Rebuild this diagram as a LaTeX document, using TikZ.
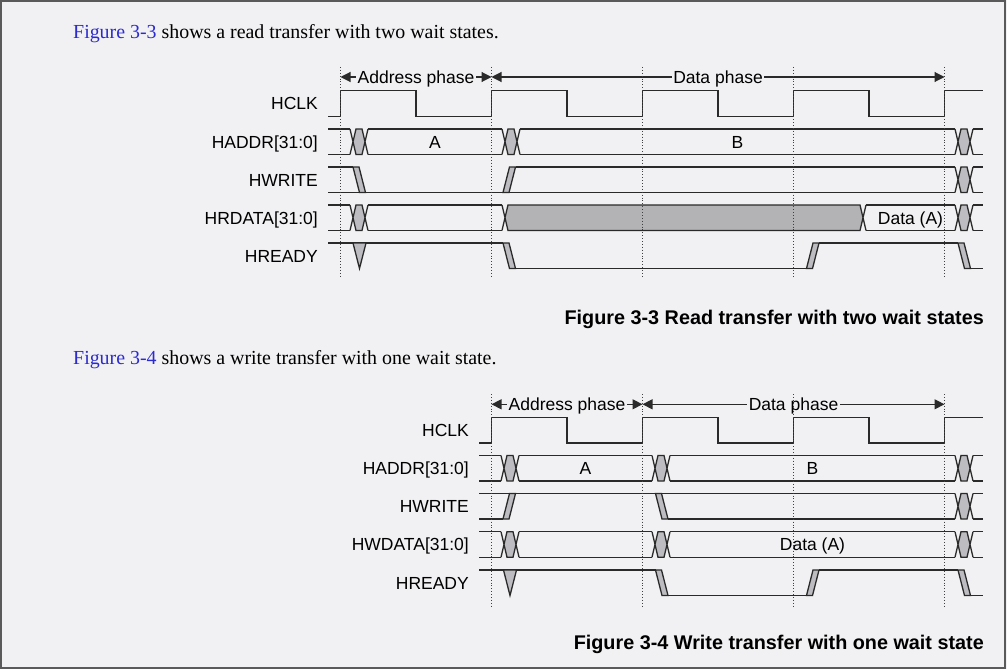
\documentclass[tikz,border=0pt]{standalone}
\usepackage{fontspec}
\setmainfont{Liberation Sans}
\newfontfamily\parfont{Liberation Serif}
\usetikzlibrary{arrows.meta}
\definecolor{bgc}{HTML}{F1F0F2}
\definecolor{xgray}{HTML}{BDBDC1}
\definecolor{dgray}{HTML}{B3B2B5}
\definecolor{wavec}{HTML}{2A2A2A}
\definecolor{linkblue}{HTML}{2B2BD0}
\definecolor{framec}{HTML}{5A5A5A}
\newcommand{\bothl}[2]{\draw[wave] (#1,0) -- (#2,0) (#1,25.5) -- (#2,25.5);}
\newcommand{\hil}[2]{\draw[wave] (#1,0) -- (#2,0);}
\newcommand{\lol}[2]{\draw[wave] (#1,25.5) -- (#2,25.5);}
\newcommand{\xbus}[1]{%
  \fill[xgray] ({#1+3},12.75) -- ({#1+6},0) -- ({#1+12},0) -- ({#1+15},12.75) -- ({#1+12},25.5) -- ({#1+6},25.5) -- cycle;
  \draw[wave] (#1,0) -- ({#1+6},25.5) -- ({#1+12},25.5) -- ({#1+18},0) (#1,25.5) -- ({#1+6},0) -- ({#1+12},0) -- ({#1+18},25.5);}
\newcommand{\darkbus}[2]{%
  \fill[dgray] ({#1+3},12.75) -- ({#1+6},0) -- (#2,0) -- ({#2+3},12.75) -- (#2,25.5) -- ({#1+6},25.5) -- cycle;
  \draw[wave] (#1,0) -- ({#1+6},25.5) -- (#2,25.5) -- ({#2+6},0) (#1,25.5) -- ({#1+6},0) -- (#2,0) -- ({#2+6},25.5);}
\newcommand{\fallw}[1]{\filldraw[wave,fill=xgray] (#1,0) -- ({#1+6},0) -- ({#1+12.5},25.5) -- ({#1+6.5},25.5) -- cycle;}
\newcommand{\risew}[1]{\filldraw[wave,fill=xgray] (#1,25.5) -- ({#1+6},25.5) -- ({#1+12.5},0) -- ({#1+6.5},0) -- cycle;}
\newcommand{\glitchv}[1]{\filldraw[wave,fill=xgray] (#1,0) -- ({#1+13},0) -- ({#1+6.5},25.5) -- cycle;}
\begin{document}
\begin{tikzpicture}[x=1pt,y=-1pt,
  wave/.style={draw=wavec,line width=1.3pt,line join=miter},
  sig/.style={anchor=base east,inner sep=0pt,font=\fontsize{17.5}{21}\selectfont},
  val/.style={anchor=base,inner sep=0pt,font=\fontsize{17.5}{21}\selectfont},
  phase/.style={draw=wavec,line width=1.1pt,{Triangle[length=10pt,width=10pt]}-{Triangle[length=10pt,width=10pt]}},
  phaselbl/.style={fill=bgc,anchor=base,yshift=-6.3pt,inner sep=1.5pt,font=\fontsize{17.5}{21}\selectfont},
  guide/.style={draw=black!75,line width=0.9pt,dotted},
  caption/.style={anchor=base east,inner sep=0pt,font=\bfseries\fontsize{19.8}{24}\selectfont},
  para/.style={anchor=base west,inner sep=0pt,font=\parfont\fontsize{19.9}{24}\selectfont}]
\useasboundingbox (0,0) rectangle (1007,669);
\fill[bgc] (0,0) rectangle (1007,669);
\draw[framec,line width=2pt] (1,1) rectangle (1005,667.5);

\node[para] (textA) at (73,38.4) {\textcolor{linkblue}{Figure 3-3} shows a read transfer with two wait states.};
\node[para] (textB) at (73,364.6) {\textcolor{linkblue}{Figure 3-4} shows a write transfer with one wait state.};

\coordinate (a0) at (340.5,77);
\coordinate (a1) at (491.5,77);
\coordinate (a2) at (944.5,77);
\draw[phase] (a0) -- (a1) node[midway,phaselbl] (adrA) {Address phase};
\draw[phase] (a1) -- (a2) node[midway,phaselbl] (datA) {Data phase};

\begin{scope}[shift={(0,90.7)}]
\node[sig] (clkL1) at (318,19) {HCLK};
\draw[wave] (328,25.5) -- (340.5,25.5) \foreach \e in {340.5,491.5,642.5,793.5}{ -- (\e,0) -- ({\e+75.5},0) -- ({\e+75.5},25.5) -- ({\e+151},25.5)} -- (944.5,0) -- (983,0);
\end{scope}
\begin{scope}[shift={(0,129)}]
\node[sig] (addrL1) at (318,19) {HADDR[31:0]};
\bothl{328}{350} \xbus{350} \bothl{368}{502} \xbus{502} \bothl{520}{955} \xbus{955} \bothl{973}{983}
\node[val] (addrA1) at (435,19) {A};
\node[val] (addrB1) at (737.5,19) {B};
\end{scope}
\begin{scope}[shift={(0,167)}]
\node[sig] (writeL1) at (318,19) {HWRITE};
\hil{328}{353} \lol{328}{955} \fallw{353} \risew{503} \hil{515.5}{955} \xbus{955} \bothl{973}{983}
\end{scope}
\begin{scope}[shift={(0,205)}]
\node[sig] (rdataL1) at (318,19) {HRDATA[31:0]};
\bothl{328}{350} \xbus{350} \bothl{368}{502} \darkbus{502}{860} \bothl{866}{955} \xbus{955} \bothl{973}{983}
\node[val] (rdataD1) at (910.5,19) {Data (A)};
\end{scope}
\begin{scope}[shift={(0,243)}]
\node[sig] (readyL1) at (318,19) {HREADY};
\hil{328}{503} \glitchv{353} \fallw{503} \lol{515.5}{806.5} \risew{806.5} \hil{819}{958} \fallw{958} \lol{970.5}{983}
\end{scope}
\foreach \g in {340.5,491.5,642.5,793.5,944.5} \draw[guide] (\g,67) -- (\g,278);

\node[caption] (capA) at (984,324.4) {Figure 3-3 Read transfer with two wait states};

\coordinate (b0) at (491.5,404.3);
\coordinate (b1) at (642.5,404.3);
\coordinate (b2) at (944.5,404.3);
\draw[phase] (b0) -- (b1) node[midway,phaselbl] (adrB) {Address phase};
\draw[phase] (b1) -- (b2) node[midway,phaselbl] (datB) {Data phase};

\begin{scope}[shift={(0,417.5)}]
\node[sig] (clkL2) at (469,19) {HCLK};
\draw[wave] (479,25.5) -- (491.5,25.5) \foreach \e in {491.5,642.5,793.5}{ -- (\e,0) -- ({\e+75.5},0) -- ({\e+75.5},25.5) -- ({\e+151},25.5)} -- (944.5,0) -- (983,0);
\end{scope}
\begin{scope}[shift={(0,455.5)}]
\node[sig] (addrL2) at (469,19) {HADDR[31:0]};
\bothl{479}{501} \xbus{501} \bothl{519}{652} \xbus{652} \bothl{670}{955} \xbus{955} \bothl{973}{983}
\node[val] (addrA2) at (585.5,19) {A};
\node[val] (addrB2) at (812.5,19) {B};
\end{scope}
\begin{scope}[shift={(0,493.5)}]
\node[sig] (writeL2) at (469,19) {HWRITE};
\hil{479}{955} \lol{479}{503} \risew{503} \fallw{655.5} \lol{668}{955} \xbus{955} \bothl{973}{983}
\end{scope}
\begin{scope}[shift={(0,531.7)}]
\node[sig] (wdataL2) at (469,19) {HWDATA[31:0]};
\bothl{479}{501} \xbus{501} \bothl{519}{652} \xbus{652} \bothl{670}{955} \xbus{955} \bothl{973}{983}
\node[val] (wdataD2) at (812.5,19) {Data (A)};
\end{scope}
\begin{scope}[shift={(0,570)}]
\node[sig] (readyL2) at (469,19) {HREADY};
\hil{479}{655.5} \glitchv{503.5} \fallw{655.5} \lol{668}{806.5} \risew{806.5} \hil{819}{958} \fallw{958} \lol{970.5}{983}
\end{scope}
\foreach \g in {491.5,642.5,793.5,944.5} \draw[guide] (\g,394) -- (\g,606);

\node[caption] (capB) at (984,649.3) {Figure 3-4 Write transfer with one wait state};
\end{tikzpicture}
\end{document}
